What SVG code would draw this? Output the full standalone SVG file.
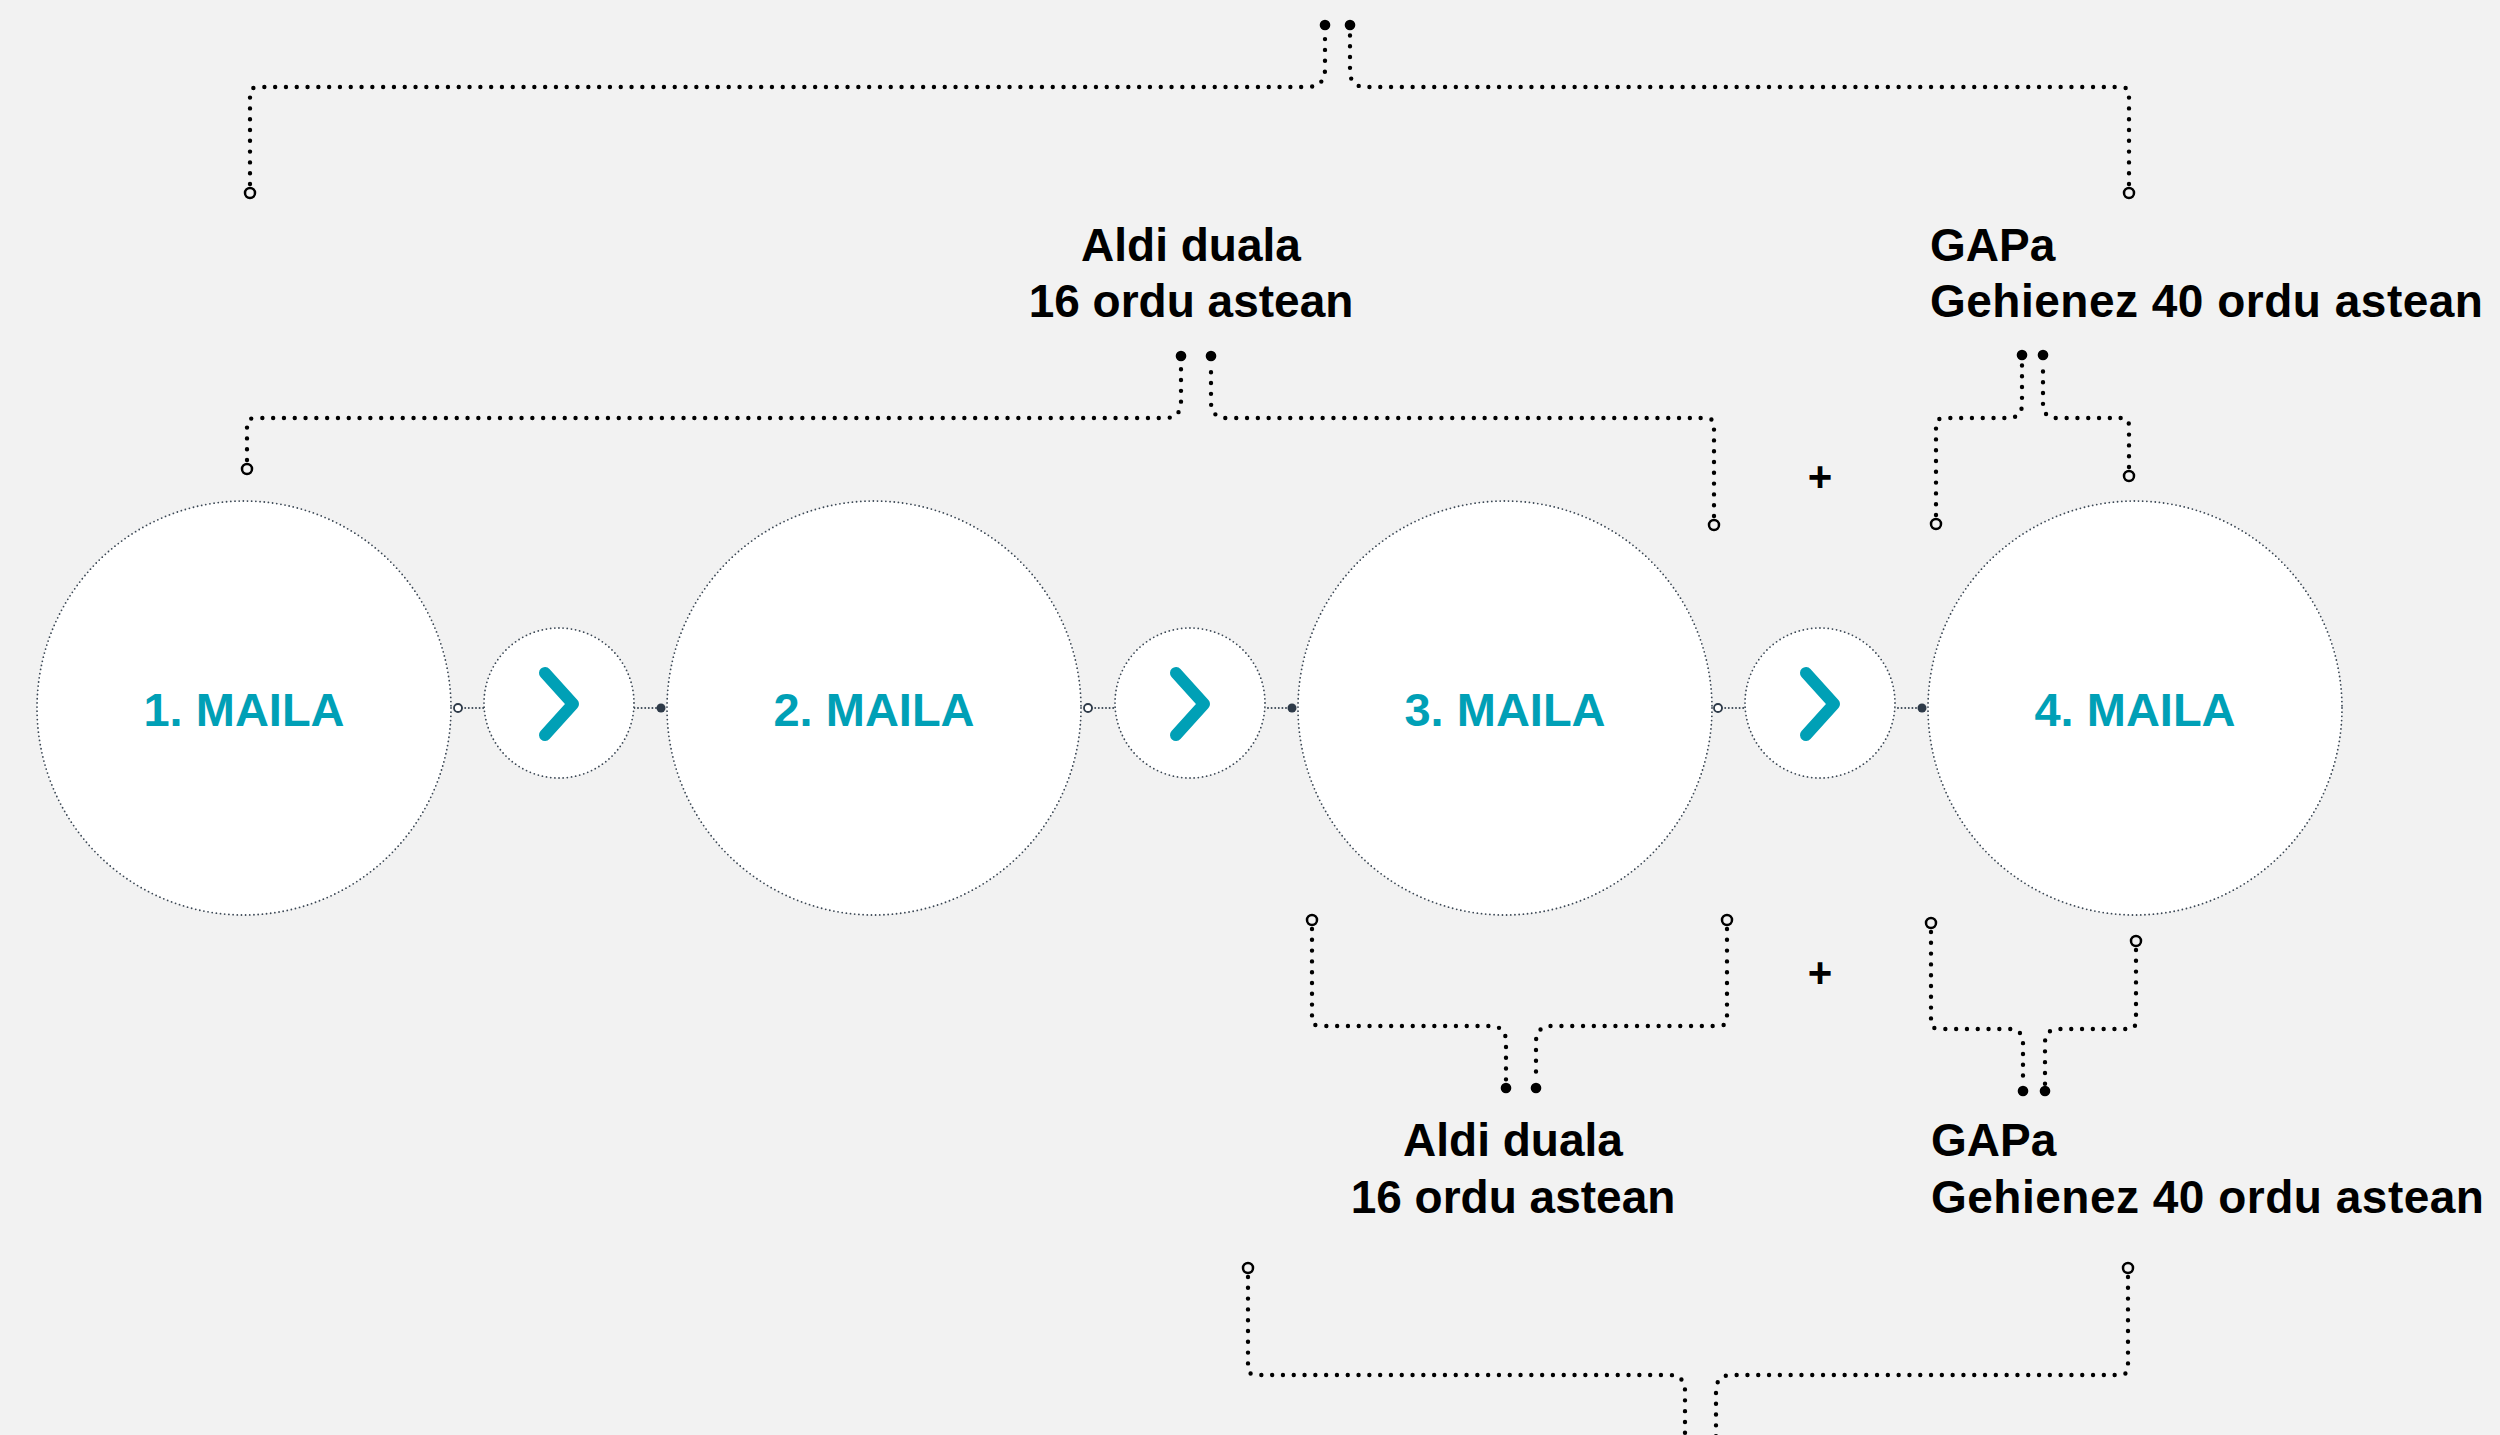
<svg xmlns="http://www.w3.org/2000/svg" width="2500" height="1435" viewBox="0 0 2500 1435">
<defs>
<style>
.node{fill:#ffffff;stroke:#3b4754;stroke-width:1.8;stroke-dasharray:0 4.2;stroke-linecap:round}
.lvl{font-family:"Liberation Sans",Arial,sans-serif;font-weight:bold;font-size:47px;fill:#00a0b6;text-anchor:middle}
.chev{fill:none;stroke:#00a0b6;stroke-width:12;stroke-linecap:round;stroke-linejoin:round}
.link{fill:none;stroke:#3b4754;stroke-width:2;stroke-dasharray:0 3.6;stroke-linecap:round}
.lo{fill:#ffffff;stroke:#2e3a48;stroke-width:1.8}
.lf{fill:#2e3a48}
.br{fill:none;stroke:#000000;stroke-width:4.4;stroke-dasharray:0 10.8;stroke-linecap:round}
.bo{fill:none;stroke:#000000;stroke-width:2.5}
.bf{fill:#000000}
.lab{font-family:"Liberation Sans",Arial,sans-serif;font-weight:bold;font-size:46px;fill:#000000}
.wide{letter-spacing:0.5px}
.plus{font-family:"Liberation Sans",Arial,sans-serif;font-weight:bold;font-size:42px;fill:#000000;text-anchor:middle}
</style>
</defs>
<rect x="0" y="0" width="2500" height="1435" fill="#f2f2f2"/>

<g id="connectors">
  <!-- node links -->
  <line class="link" x1="458" y1="708" x2="661" y2="708"/>
  <line class="link" x1="1088" y1="708" x2="1292" y2="708"/>
  <line class="link" x1="1718" y1="708" x2="1922" y2="708"/>
  <circle class="lo" cx="458" cy="708" r="4"/>
  <circle class="lf" cx="661" cy="708" r="4.5"/>
  <circle class="lo" cx="1088" cy="708" r="4"/>
  <circle class="lf" cx="1292" cy="708" r="4.5"/>
  <circle class="lo" cx="1718" cy="708" r="4"/>
  <circle class="lf" cx="1922" cy="708" r="4.5"/>

  <!-- bracket A (top) -->
  <path class="br" d="M250,184 V95 Q250,87 258,87 H1307 Q1325,87 1325,69 V31"/>
  <path class="br" d="M2129,184 V95 Q2129,87 2121,87 H1366 Q1350,87 1350,71 V31"/>
  <circle class="bo" cx="250" cy="193" r="5"/>
  <circle class="bo" cx="2129" cy="193" r="5"/>
  <circle class="bf" cx="1325" cy="25" r="5.3"/>
  <circle class="bf" cx="1350" cy="25" r="5.3"/>

  <!-- bracket B -->
  <path class="br" d="M247,460 V426 Q247,418 255,418 H1165 Q1181,418 1181,402 V362"/>
  <path class="br" d="M1714,516 V426 Q1714,418 1706,418 H1227 Q1211,418 1211,402 V362"/>
  <circle class="bo" cx="247" cy="469" r="5"/>
  <circle class="bo" cx="1714" cy="525" r="5"/>
  <circle class="bf" cx="1181" cy="356" r="5.3"/>
  <circle class="bf" cx="1211" cy="356" r="5.3"/>

  <!-- bracket C -->
  <path class="br" d="M1936,515 V426 Q1936,418 1944,418 H2008 Q2022,418 2022,404 V361"/>
  <path class="br" d="M2129,467 V426 Q2129,418 2121,418 H2057 Q2043,418 2043,404 V361"/>
  <circle class="bo" cx="1936" cy="524" r="5"/>
  <circle class="bo" cx="2129" cy="476" r="5"/>
  <circle class="bf" cx="2022" cy="355" r="5.3"/>
  <circle class="bf" cx="2043" cy="355" r="5.3"/>

  <!-- bracket D -->
  <path class="br" d="M1312,929 V1018 Q1312,1026 1320,1026 H1490 Q1506,1026 1506,1042 V1082"/>
  <path class="br" d="M1727,929 V1018 Q1727,1026 1719,1026 H1552 Q1536,1026 1536,1042 V1082"/>
  <circle class="bo" cx="1312" cy="920" r="5"/>
  <circle class="bo" cx="1727" cy="920" r="5"/>
  <circle class="bf" cx="1506" cy="1088" r="5.3"/>
  <circle class="bf" cx="1536" cy="1088" r="5.3"/>

  <!-- bracket E -->
  <path class="br" d="M1931,932 V1021 Q1931,1029 1939,1029 H2009 Q2023,1029 2023,1043 V1085"/>
  <path class="br" d="M2136,950 V1021 Q2136,1029 2128,1029 H2059 Q2045,1029 2045,1043 V1085"/>
  <circle class="bo" cx="1931" cy="923" r="5"/>
  <circle class="bo" cx="2136" cy="941" r="5"/>
  <circle class="bf" cx="2023" cy="1091" r="5.3"/>
  <circle class="bf" cx="2045" cy="1091" r="5.3"/>

  <!-- bracket F (bottom) -->
  <path class="br" d="M1248,1277 V1367 Q1248,1375 1256,1375 H1669 Q1685,1375 1685,1391 V1445"/>
  <path class="br" d="M2128,1277 V1367 Q2128,1375 2120,1375 H1732 Q1716,1375 1716,1391 V1445"/>
  <circle class="bo" cx="1248" cy="1268" r="5"/>
  <circle class="bo" cx="2128" cy="1268" r="5"/>
</g>

<g id="node-maila-1">
  <circle class="node" cx="244" cy="708" r="207"/>
  <text class="lvl" x="244" y="726">1. MAILA</text>
</g>
<g id="node-arrow-1">
  <circle class="node" cx="559" cy="703" r="75"/>
  <path class="chev" d="M545,673 L573,704 L545,735"/>
</g>
<g id="node-maila-2">
  <circle class="node" cx="874" cy="708" r="207"/>
  <text class="lvl" x="874" y="726">2. MAILA</text>
</g>
<g id="node-arrow-2">
  <circle class="node" cx="1190" cy="703" r="75"/>
  <path class="chev" d="M1176,673 L1204,704 L1176,735"/>
</g>
<g id="node-maila-3">
  <circle class="node" cx="1505" cy="708" r="207"/>
  <text class="lvl" x="1505" y="726">3. MAILA</text>
</g>
<g id="node-arrow-3">
  <circle class="node" cx="1820" cy="703" r="75"/>
  <path class="chev" d="M1806,673 L1834,704 L1806,735"/>
</g>
<g id="node-maila-4">
  <circle class="node" cx="2135" cy="708" r="207"/>
  <text class="lvl" x="2135" y="726">4. MAILA</text>
</g>

<g id="label-top-dual">
  <text class="lab" x="1191" y="261" text-anchor="middle">Aldi duala</text>
  <text class="lab" x="1191" y="317" text-anchor="middle">16 ordu astean</text>
</g>
<g id="label-top-gapa">
  <text class="lab" x="1930" y="261">GAPa</text>
  <text class="lab wide" x="1930" y="317">Gehienez 40 ordu astean</text>
</g>
<g id="label-bottom-dual">
  <text class="lab" x="1513" y="1156" text-anchor="middle">Aldi duala</text>
  <text class="lab" x="1513" y="1213" text-anchor="middle">16 ordu astean</text>
</g>
<g id="label-bottom-gapa">
  <text class="lab" x="1931" y="1156">GAPa</text>
  <text class="lab wide" x="1931" y="1213">Gehienez 40 ordu astean</text>
</g>
<g id="plus-top"><text class="plus" x="1820" y="491">+</text></g>
<g id="plus-bottom"><text class="plus" x="1820" y="987">+</text></g>
</svg>
